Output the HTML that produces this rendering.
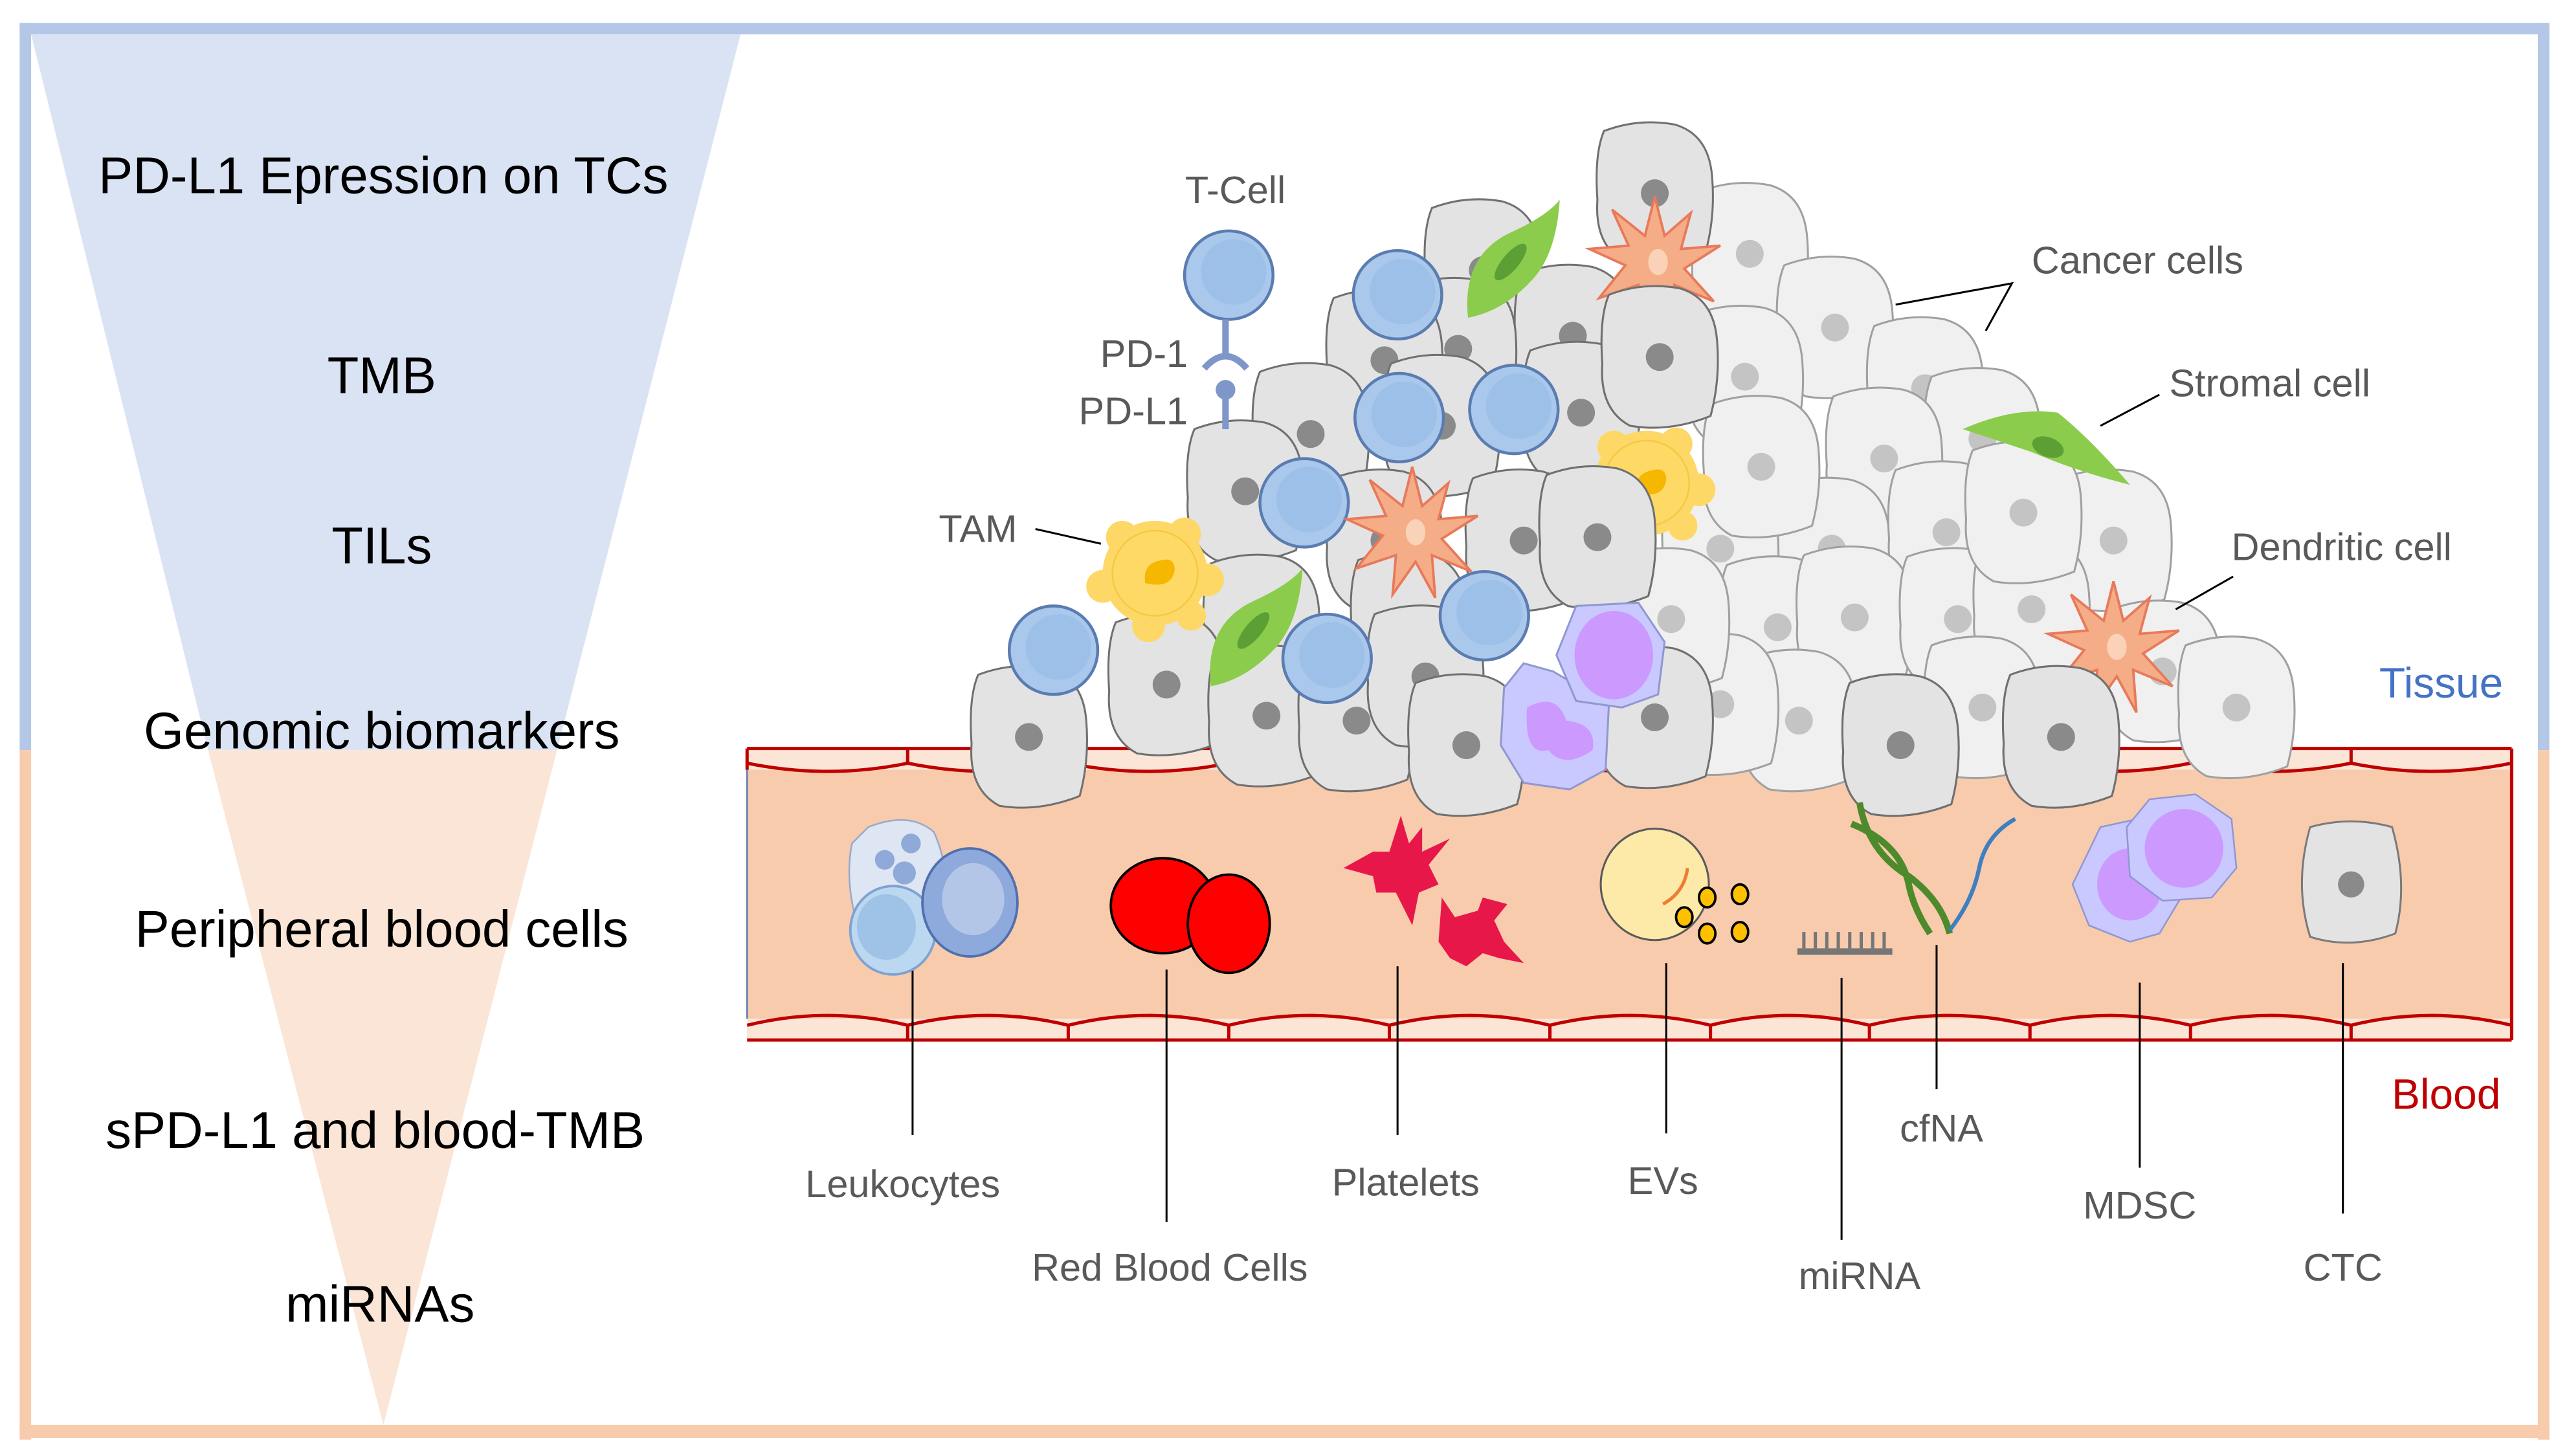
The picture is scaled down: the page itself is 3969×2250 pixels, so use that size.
<!DOCTYPE html>
<html><head><meta charset="utf-8"><style>html,body{margin:0;padding:0;background:#fff}svg{display:block}</style></head>
<body>
<svg width="3969" height="2250" viewBox="0 0 1568 889" preserveAspectRatio="none" xmlns="http://www.w3.org/2000/svg" font-family="Liberation Sans, sans-serif">
<defs>
<g id="cd"><path d="M-31,-38 Q-10,-46 12,-42 Q33,-36 35,-10 Q37,14 31,36 Q6,46 -18,42 Q-37,32 -35,4 Q-37,-24 -31,-38Z" fill="#e3e3e3" stroke="#707070" stroke-width="1.2"/><circle r="8.5" fill="#8a8a8a"/></g>
<g id="cl"><path d="M-31,-38 Q-10,-46 12,-42 Q33,-36 35,-10 Q37,14 31,36 Q6,46 -18,42 Q-37,32 -35,4 Q-37,-24 -31,-38Z" fill="#f0f0f0" stroke="#a0a0a0" stroke-width="1.2"/><circle r="8.5" fill="#c4c4c4"/></g>
<g id="tc"><circle r="27" fill="#a9c8ec" stroke="#5a7cb0" stroke-width="1.8"/><circle cx="3" cy="-2" r="20" fill="#9dc0e8"/></g>
<g id="st"><path d="M0,-40 L6,-16 L22,-30 L16,-8 L40,-10 L18,4 L36,24 L12,14 L14,40 L2,18 L-12,38 L-10,14 L-34,22 L-18,2 L-40,-8 L-16,-10 L-26,-32 L-6,-16Z" fill="#f4ad86" stroke="#e8795a" stroke-width="1.5"/><ellipse cx="2" cy="0" rx="6" ry="8" fill="#fad2b8"/></g>
<g id="lf"><path d="M-26,34 Q-30,-4 0,-18 Q22,-28 30,-38 Q28,-6 14,10 Q-4,30 -26,34Z" fill="#8bcc4c"/><ellipse cx="0" cy="0" rx="5" ry="14" transform="rotate(40)" fill="#5c9f35"/></g>
<g id="tam"><circle r="32" fill="#fdd866"/><circle cx="-20" cy="-22" r="10" fill="#fdd866"/><circle cx="18" cy="-24" r="10" fill="#fdd866"/><circle cx="32" cy="4" r="10" fill="#fdd866"/><circle cx="-32" cy="8" r="10" fill="#fdd866"/><circle cx="-4" cy="32" r="10" fill="#fdd866"/><circle cx="22" cy="26" r="9" fill="#fdd866"/><circle r="26" fill="#ffd966" stroke="#f6c942"/><path d="M-6,6 Q-8,-6 4,-8 Q12,-10 12,-2 Q10,10 -6,6Z" fill="#f5b700"/></g>
</defs>
<rect x="12" y="14" width="1544" height="7" fill="#b4c7e7"/>
<rect x="12" y="14" width="7" height="444" fill="#b4c7e7"/>
<rect x="1549" y="14" width="7" height="444" fill="#b4c7e7"/>
<rect x="12" y="458" width="7" height="421" fill="#f8cbad"/>
<rect x="1549" y="458" width="7" height="421" fill="#f8cbad"/>
<rect x="12" y="870" width="1544" height="8" fill="#f8cbad"/>
<polygon points="19,21 452,21 340,458 127,458" fill="#dae3f3"/>
<polygon points="127,458 340,458 234,870" fill="#fbe5d6"/>
<g font-size="31.5" fill="#000" text-anchor="middle">
<text x="234" y="118">PD-L1 Epression on TCs</text>
<text x="233" y="240">TMB</text>
<text x="233" y="344">TILs</text>
<text x="233" y="457">Genomic biomarkers</text>
<text x="233" y="578">Peripheral  blood cells</text>
<text x="229" y="701">sPD-L1 and blood-TMB</text>
<text x="232" y="807">miRNAs</text>
</g>
<rect x="456" y="457" width="1077" height="178" fill="#f8cbad"/>
<rect x="456" y="457" width="1077" height="13" fill="#fbe5d6"/>
<rect x="456" y="622" width="1077" height="13" fill="#fbe5d6"/>
<g fill="none" stroke="#c00000" stroke-width="2">
<path d="M456,457 H1533 M456,635 H1533 M456,457 V470 M1533,457 V635"/>
<path d="M456,466 Q505,476 554,466 Q603,476 652,466 Q701,476 750,466 Q799,476 848,466 Q897,476 946,466 Q995,476 1044,466 Q1092,476 1141,466 Q1190,476 1239,466 Q1288,476 1337,466 Q1386,476 1435,466 Q1484,476 1533,466"/>
<path d="M456,626 Q505,614 554,626 Q603,614 652,626 Q701,614 750,626 Q799,614 848,626 Q897,614 946,626 Q995,614 1044,626 Q1092,614 1141,626 Q1190,614 1239,626 Q1288,614 1337,626 Q1386,614 1435,626 Q1484,614 1533,626"/>
<path d="M554,457V466 M652,457V466 M750,457V466 M848,457V466 M946,457V466 M1044,457V466 M1141,457V466 M1239,457V466 M1337,457V466 M1435,457V466"/>
<path d="M554,626V635 M652,626V635 M750,626V635 M848,626V635 M946,626V635 M1044,626V635 M1141,626V635 M1239,626V635 M1337,626V635 M1435,626V635"/>
</g>
<line x1="456" y1="470" x2="456" y2="622" stroke="#6f82b8" stroke-width="1.2"/>
<g>
<use href="#cl" x="1068" y="155"/><use href="#cl" x="1120" y="200"/><use href="#cl" x="1175" y="237"/><use href="#cl" x="1210" y="268"/>
<use href="#cl" x="1065" y="230"/><use href="#cl" x="1150" y="280"/><use href="#cl" x="1118" y="335"/><use href="#cl" x="1188" y="325"/>
<use href="#cl" x="1290" y="330"/><use href="#cl" x="1050" y="335"/><use href="#cl" x="1085" y="383"/><use href="#cl" x="1132" y="377"/>
<use href="#cl" x="1195" y="378"/><use href="#cl" x="1240" y="372"/><use href="#cl" x="1320" y="410"/><use href="#cl" x="1098" y="440"/>
<use href="#cl" x="1210" y="432"/><use href="#cl" x="1050" y="430"/><use href="#cl" x="1365" y="432"/><use href="#cl" x="1235" y="313"/>
<use href="#cl" x="1075" y="285"/><use href="#cl" x="1020" y="378"/>
<use href="#cd" x="1010" y="118"/><use href="#cd" x="905" y="165"/><use href="#cd" x="960" y="205"/><use href="#cd" x="890" y="213"/>
<use href="#cd" x="845" y="220"/><use href="#cd" x="800" y="265"/><use href="#cd" x="880" y="260"/><use href="#cd" x="965" y="252"/>
<use href="#cd" x="1013" y="218"/><use href="#cd" x="760" y="300"/><use href="#cd" x="845" y="330"/><use href="#cd" x="930" y="330"/>
<use href="#cd" x="975" y="328"/><use href="#cd" x="770" y="382"/><use href="#cd" x="860" y="380"/><use href="#cd" x="712" y="418"/>
<use href="#cd" x="628" y="450"/><use href="#cd" x="773" y="437"/><use href="#cd" x="828" y="440"/><use href="#cd" x="870" y="413"/>
<use href="#cd" x="895" y="455"/><use href="#cd" x="1010" y="438"/><use href="#cd" x="1160" y="455"/><use href="#cd" x="1258" y="450"/>
</g>
<use href="#st" x="1010" y="160"/>
<use href="#lf" x="922" y="160"/>
<use href="#tc" x="853" y="180"/><use href="#tc" x="854" y="255"/><use href="#tc" x="924" y="250"/><use href="#tc" x="796" y="307"/>
<use href="#tc" x="906" y="376"/><use href="#tc" x="643" y="397"/><use href="#tc" x="810" y="402"/>
<use href="#tam" x="705" y="350"/><use href="#tam" x="1005" y="295"/>
<use href="#cd" x="975" y="328"/><use href="#cd" x="1013" y="218"/>
<use href="#st" x="862" y="325"/>
<use href="#lf" x="765" y="385"/>
<path d="M1198,262 Q1230,248 1256,252 Q1276,268 1300,296 Q1268,288 1240,276 Q1216,268 1198,262Z" fill="#8bcc4c"/>
<ellipse cx="1250" cy="273" rx="10" ry="6" transform="rotate(20 1250 273)" fill="#5c9f35"/>
<use href="#st" x="1290" y="395"/>
<use href="#cd" x="1160" y="455"/><use href="#cd" x="1258" y="450"/>
<path d="M930,405 L948,410 L982,430 L980,470 L958,482 L930,478 L916,455 L918,420Z" fill="#c9c9ff" stroke="#8f98d0" stroke-width="1.2"/>
<path d="M932,432 Q950,422 956,440 Q975,442 972,458 Q955,470 945,458 Q930,462 932,432Z" fill="#cc99ff"/>
<path d="M962,370 L1000,368 L1016,392 L1012,424 L990,432 L962,428 L950,400Z" fill="#c9c9ff" stroke="#8f98d0" stroke-width="1.2"/>
<ellipse cx="985" cy="400" rx="24" ry="27" fill="#cc99ff"/>
<use href="#tc" x="750" y="168"/>
<g stroke="#7f96c8" stroke-width="4" fill="none"><path d="M748,195 V218 M735,225 Q748,210 761,225"/><path d="M748,240 V262"/></g>
<circle cx="748" cy="238" r="6" fill="#7f96c8"/>
<g font-size="23.5" fill="#595959">
<text x="754" y="124" text-anchor="middle">T-Cell</text>
<text x="725" y="224" text-anchor="end">PD-1</text>
<text x="725" y="259" text-anchor="end">PD-L1</text>
<text x="573" y="331">TAM</text>
<text x="1240" y="167">Cancer  cells</text>
<text x="1324" y="242">Stromal cell</text>
<text x="1362" y="342">Dendritic cell</text>
<text x="551" y="731" text-anchor="middle">Leukocytes</text>
<text x="714" y="782" text-anchor="middle">Red Blood Cells</text>
<text x="858" y="730" text-anchor="middle">Platelets</text>
<text x="1015" y="729" text-anchor="middle">EVs</text>
<text x="1135" y="787" text-anchor="middle">miRNA</text>
<text x="1185" y="697" text-anchor="middle">cfNA</text>
<text x="1306" y="744" text-anchor="middle">MDSC</text>
<text x="1430" y="782" text-anchor="middle">CTC</text>
</g>
<text x="1490" y="426" font-size="26" fill="#4472c4" text-anchor="middle">Tissue</text>
<text x="1493" y="677" font-size="26" fill="#c00000" text-anchor="middle">Blood</text>
<g stroke="#000" stroke-width="1.2" fill="none">
<path d="M632,323 L672,332 M1157,186 L1228,173 L1212,202 M1318,241 L1282,260 M1363,352 L1328,372"/>
<path d="M557,592 V693 M712,592 V746 M853,590 V693 M1017,588 V692 M1124,597 V757 M1182,577 V665 M1306,600 V713 M1430,588 V741"/>
</g>
<path d="M530,505 Q555,495 570,508 Q580,530 575,550 L525,570 Q515,540 520,515Z" fill="#dde6f2" stroke="#9aa9c8"/>
<circle cx="540" cy="525" r="6" fill="#8fa9d9"/><circle cx="556" cy="515" r="6" fill="#8fa9d9"/><circle cx="552" cy="533" r="7" fill="#8fa9d9"/>
<ellipse cx="545" cy="568" rx="26" ry="27" fill="#bcd7f0" stroke="#7ea2d2" stroke-width="1.5"/>
<ellipse cx="541" cy="566" rx="18" ry="20" fill="#9ec3e6"/>
<ellipse cx="592" cy="551" rx="29" ry="33" fill="#8ea9db" stroke="#4f6fad" stroke-width="1.5"/>
<ellipse cx="594" cy="549" rx="19" ry="22" fill="#b4c6e7"/>
<ellipse cx="710" cy="553" rx="32" ry="29" fill="#ff0000" stroke="#000" stroke-width="1.5"/>
<ellipse cx="750" cy="564" rx="25" ry="30" fill="#ff0000" stroke="#000" stroke-width="1.5"/>
<path d="M855,498 L860,515 L868,505 L868,520 L885,512 L872,528 L878,540 L866,545 L862,565 L852,545 L840,545 L838,535 L820,530 L838,520 L848,520Z" fill="#e8174a"/>
<path d="M880,548 L888,560 L902,556 L905,548 L920,552 L912,562 L918,575 L930,588 L915,585 L905,582 L895,590 L885,585 L878,575Z" fill="#e8174a"/>
<ellipse cx="1010" cy="540" rx="33" ry="34" fill="#fde9a8" stroke="#5a5a5a" stroke-width="1.2"/>
<path d="M1030,530 Q1028,545 1015,552" stroke="#ed7d31" stroke-width="2" fill="none"/>
<g fill="#ffc000" stroke="#000" stroke-width="1.5"><ellipse cx="1042" cy="548" rx="5" ry="6"/><ellipse cx="1062" cy="546" rx="5" ry="6"/><ellipse cx="1028" cy="560" rx="5" ry="6"/><ellipse cx="1042" cy="570" rx="5" ry="6"/><ellipse cx="1062" cy="569" rx="5" ry="6"/></g>
<rect x="1097" y="579" width="58" height="4" fill="#767676"/>
<path d="M1101,579V569 M1108,579V569 M1115,579V569 M1122,579V569 M1129,579V569 M1136,579V569 M1143,579V569 M1150,579V569" stroke="#767676" stroke-width="2"/>
<path d="M1135,490 Q1140,520 1165,535 Q1185,550 1190,570 M1130,503 Q1160,515 1165,540 Q1168,555 1178,570" stroke="#4d8a2c" stroke-width="4" fill="none"/>
<path d="M1230,500 Q1212,510 1208,530 Q1204,550 1190,568" stroke="#3f7fbf" stroke-width="2.5" fill="none"/>
<path d="M1282,505 L1305,500 L1328,512 L1333,545 L1318,570 L1300,575 L1275,565 L1265,540Z" fill="#c9c9ff" stroke="#8f98d0"/>
<ellipse cx="1300" cy="540" rx="20" ry="22" fill="#cc99ff"/>
<path d="M1312,488 L1340,485 L1362,500 L1365,530 L1350,548 L1320,550 L1300,535 L1298,505Z" fill="#c9c9ff" stroke="#8f98d0"/>
<ellipse cx="1333" cy="518" rx="24" ry="24" fill="#cc99ff"/>
<path d="M1410,505 Q1435,498 1460,505 Q1470,540 1462,570 Q1435,580 1410,572 Q1400,540 1410,505Z" fill="#e3e3e3" stroke="#7a7a7a" stroke-width="1.2"/>
<circle cx="1435" cy="540" r="8" fill="#8a8a8a"/>
</svg>
</body></html>
